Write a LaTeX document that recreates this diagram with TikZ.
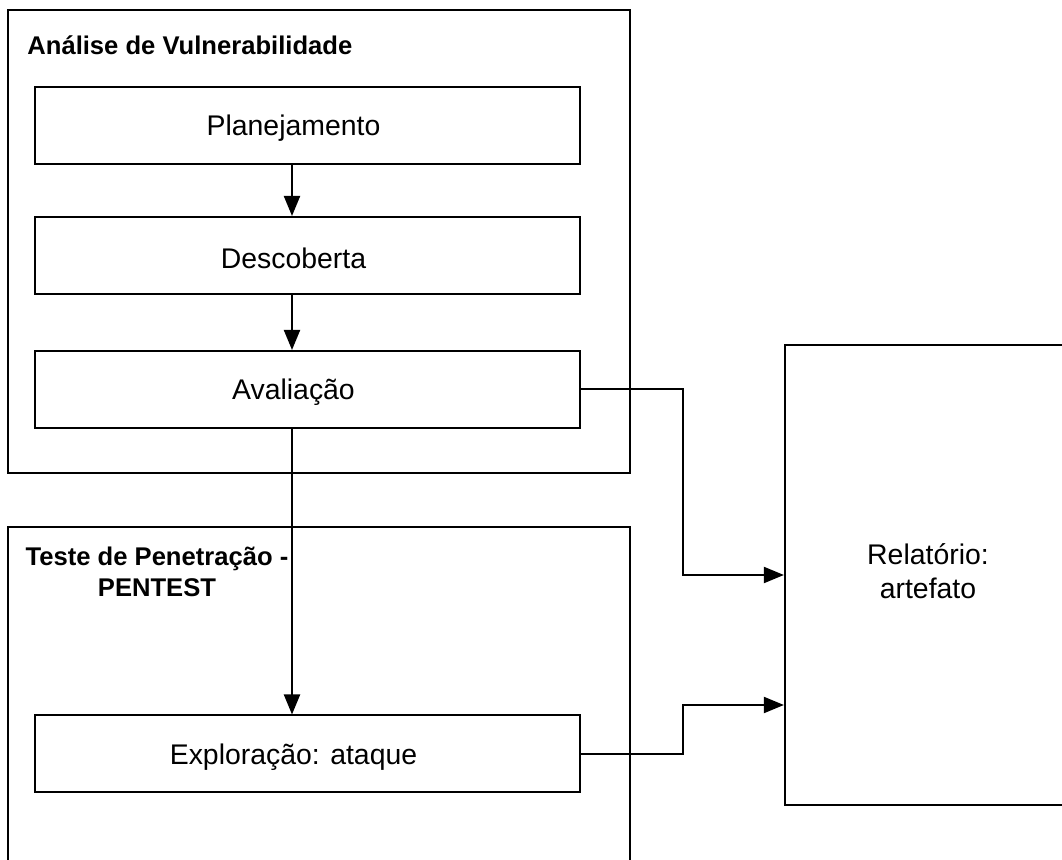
\documentclass[tikz,border=0pt]{standalone}
\usepackage{fontspec}
\setmainfont{Liberation Sans}
\usetikzlibrary{arrows.meta,positioning,calc}

\begin{document}
\begin{tikzpicture}[x=0.5pt, y=-0.5pt,
        group/.style={draw, line width=1.1pt, rectangle, inner sep=0pt},
        stage/.style={draw, line width=1pt, rectangle, minimum width=272.5pt,
                      minimum height=38.5pt,
                      label={[font=\fontsize{14.2}{17}\selectfont, xshift=-7pt, yshift=-1.5pt]center:#1}},
        title/.style={font=\fontsize{12.8}{15.5}\selectfont\bfseries, align=center, inner sep=0pt},
        flow/.style={line width=1pt, -{Triangle[length=10pt, width=8pt]}}
    ]
        \useasboundingbox (0,0) rectangle (1062,860);
        \clip (0,0) rectangle (1062,860);

        % containers
        \node[group, minimum width=311pt, minimum height=231.5pt] (va) at (319,241.5) {};
        \node[group, minimum width=311pt, minimum height=200pt] (pt) at (319,727) {};
        \node[group, minimum width=143pt, minimum height=230pt] (rel) at (928,575)
            {\fontsize{14.2}{17}\selectfont\begin{tabular}{c}Relatório:\\artefato\end{tabular}};

        \node[title, anchor=west] (vat) at (27,45) {Análise de Vulnerabilidade};
        \node[title] (ptt) at (157,572) {Teste de Penetração -\\PENTEST};

        % stages
        \node[stage=Planejamento] (plan) at (307.5,125.5) {};
        \node[stage=Descoberta, below=25.5pt of plan] (desc) {};
        \node[stage=Avaliação, below=27.5pt of desc] (aval) {};
        \node[stage=Exploração: ataque] (expl) at (307.5,754) {};

        \coordinate (col) at (292,0);
        \coordinate (in2) at ($(rel.west)+(0,130)$);

        \draw[flow] (plan.south -| col) -- (desc.north -| col);
        \draw[flow] (desc.south -| col) -- (aval.north -| col);
        \draw[flow] (aval.south -| col) -- (expl.north -| col);
        \draw[flow] (aval.east) -- ++(102,0) |- (rel.west);
        \draw[flow] (expl.east) -- ++(102,0) |- (in2);
    \end{tikzpicture}
\end{document}
